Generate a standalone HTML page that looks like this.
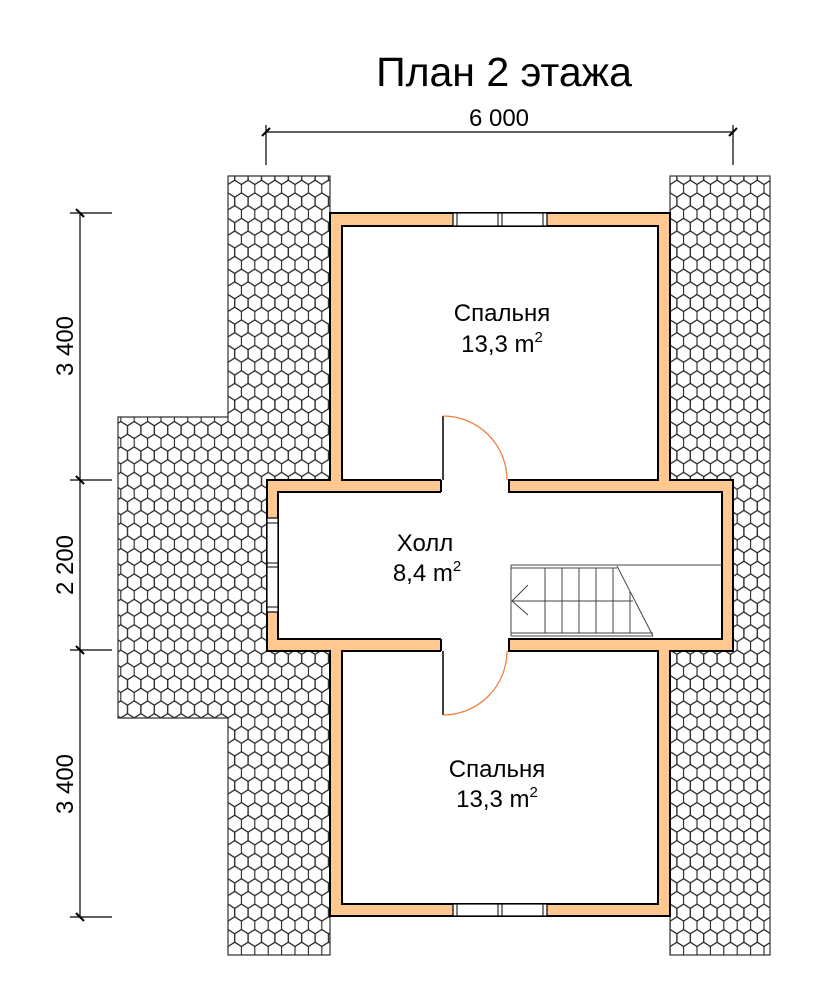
<!DOCTYPE html>
<html><head><meta charset="utf-8"><style>
html,body{margin:0;padding:0;background:#fff;}
svg{display:block;}
text{font-family:"Liberation Sans",sans-serif;fill:#000;}
</style></head><body>
<svg width="830" height="1000" viewBox="0 0 830 1000" xmlns="http://www.w3.org/2000/svg">
<defs>
<pattern id="hex" patternUnits="userSpaceOnUse" x="228" y="176" width="13.4" height="25.4">
<g fill="none" stroke="#222" stroke-width="1.1">
<path d="M0,-8.47 L6.7,-4.23 L6.7,4.23 L0,8.47 L-6.7,4.23 L-6.7,-4.23Z"/>
<path d="M13.4,-8.47 L20.1,-4.23 L20.1,4.23 L13.4,8.47 L6.7,4.23 L6.7,-4.23Z"/>
<path d="M6.7,4.23 L13.4,8.47 L13.4,16.93 L6.7,21.17 L0,16.93 L0,8.47Z"/>
<path d="M0,16.93 L6.7,21.17 L6.7,29.63 L0,33.87 L-6.7,29.63 L-6.7,21.17Z"/>
<path d="M13.4,16.93 L20.1,21.17 L20.1,29.63 L13.4,33.87 L6.7,29.63 L6.7,21.17Z"/>
</g>
</pattern>
</defs>
<text x="504" y="86" font-size="41" text-anchor="middle">План 2 этажа</text>

<g stroke="#333" stroke-width="1.2" fill="url(#hex)">
<path d="M228,176 H330 V955 H228 V718 H118 V417 H228 Z"/>
<rect x="670" y="176" width="100" height="779"/>
</g>

<g stroke="#000" stroke-width="1.2" fill="none">
<line x1="266" y1="132" x2="733" y2="132"/>
<line x1="266" y1="125" x2="266" y2="165"/>
<line x1="733" y1="125" x2="733" y2="165"/>
<line x1="262" y1="136" x2="270" y2="128" stroke-width="2"/>
<line x1="729" y1="136" x2="737" y2="128" stroke-width="2"/>
<line x1="80" y1="213" x2="80" y2="917"/>
<line x1="70" y1="213" x2="112" y2="213"/>
<line x1="70" y1="480" x2="112" y2="480"/>
<line x1="70" y1="650" x2="112" y2="650"/>
<line x1="70" y1="917" x2="112" y2="917"/>
<g stroke-width="2">
<line x1="76" y1="209" x2="84" y2="217"/>
<line x1="76" y1="476" x2="84" y2="484"/>
<line x1="76" y1="646" x2="84" y2="654"/>
<line x1="76" y1="913" x2="84" y2="921"/>
</g>
</g>
<text x="499" y="126" font-size="24" text-anchor="middle">6 000</text>
<text transform="translate(73,346) rotate(-90)" font-size="24" text-anchor="middle">3 400</text>
<text transform="translate(73,565) rotate(-90)" font-size="24" text-anchor="middle">2 200</text>
<text transform="translate(73,784) rotate(-90)" font-size="24" text-anchor="middle">3 400</text>

<path d="M330,213 H670 V480 H733 V651 H670 V916 H330 V651 H267 V480 H330 Z" fill="#FFC890" stroke="#000" stroke-width="2"/>
<g fill="#fff" stroke="#000" stroke-width="2">
<rect x="342" y="226" width="316" height="254"/>
<rect x="278" y="492" width="444" height="147"/>
<rect x="342" y="651" width="316" height="253"/>
</g>
<g fill="#fff" stroke="none">
<rect x="441" y="478" width="67" height="16"/>
<rect x="441" y="637" width="67" height="16"/>
</g>
<g stroke="#000" stroke-width="2">
<line x1="441" y1="480" x2="441" y2="492"/><line x1="509" y1="480" x2="509" y2="492"/>
<line x1="441" y1="639" x2="441" y2="651"/><line x1="509" y1="639" x2="509" y2="651"/>
</g>
<g fill="none">
<line x1="443" y1="416" x2="443" y2="480" stroke="#000" stroke-width="1.5"/>
<path d="M443,416 A64,64 0 0 1 507,480" stroke="#F08040" stroke-width="1.3"/>
<line x1="443" y1="651" x2="443" y2="715" stroke="#000" stroke-width="1.5"/>
<path d="M443,715 A64,64 0 0 0 507,651" stroke="#F08040" stroke-width="1.3"/>
</g>
<g fill="#fff" stroke="#000" stroke-width="1.2">
<rect x="453" y="213" width="94" height="13"/>
<rect x="453" y="904" width="94" height="12"/>
<rect x="267" y="518" width="11" height="94"/>
</g>
<g stroke="#000" stroke-width="1">
<line x1="457" y1="213" x2="457" y2="226"/><line x1="543" y1="213" x2="543" y2="226"/>
<line x1="498" y1="213" x2="498" y2="226"/><line x1="502" y1="213" x2="502" y2="226"/>
<line x1="457" y1="904" x2="457" y2="916"/><line x1="543" y1="904" x2="543" y2="916"/>
<line x1="498" y1="904" x2="498" y2="916"/><line x1="502" y1="904" x2="502" y2="916"/>
<line x1="267" y1="523" x2="278" y2="523"/><line x1="267" y1="607" x2="278" y2="607"/>
<line x1="267" y1="563" x2="278" y2="563"/><line x1="267" y1="567" x2="278" y2="567"/>
</g>
<g stroke="#444" stroke-width="1" fill="none">
<line x1="511" y1="565" x2="722" y2="565"/>
<line x1="511" y1="568" x2="617" y2="568"/>
<line x1="511" y1="633" x2="653" y2="633"/>
<line x1="511" y1="636" x2="653" y2="636"/>
<line x1="511" y1="565" x2="511" y2="636"/>
<line x1="617" y1="566" x2="653" y2="636"/>
<line x1="545" y1="568" x2="545" y2="633"/>
<line x1="562" y1="568" x2="562" y2="633"/>
<line x1="579" y1="568" x2="579" y2="633"/>
<line x1="596" y1="568" x2="596" y2="633"/>
<line x1="613" y1="568" x2="613" y2="633"/>
<line x1="630" y1="592" x2="630" y2="633"/>
<line x1="512" y1="601" x2="633" y2="601"/>
<polyline points="528,585 512,601 528,615"/>
</g>
<text x="502" y="321" font-size="24" text-anchor="middle">Спальня</text>
<text x="502" y="352" font-size="24" text-anchor="middle">13,3 m<tspan font-size="15" dy="-10">2</tspan></text>
<text x="425" y="551" font-size="24" text-anchor="middle">Холл</text>
<text x="427" y="581" font-size="24" text-anchor="middle">8,4 m<tspan font-size="15" dy="-10">2</tspan></text>
<text x="497" y="777" font-size="24" text-anchor="middle">Спальня</text>
<text x="497" y="807" font-size="24" text-anchor="middle">13,3 m<tspan font-size="15" dy="-10">2</tspan></text>
</svg>
</body></html>
